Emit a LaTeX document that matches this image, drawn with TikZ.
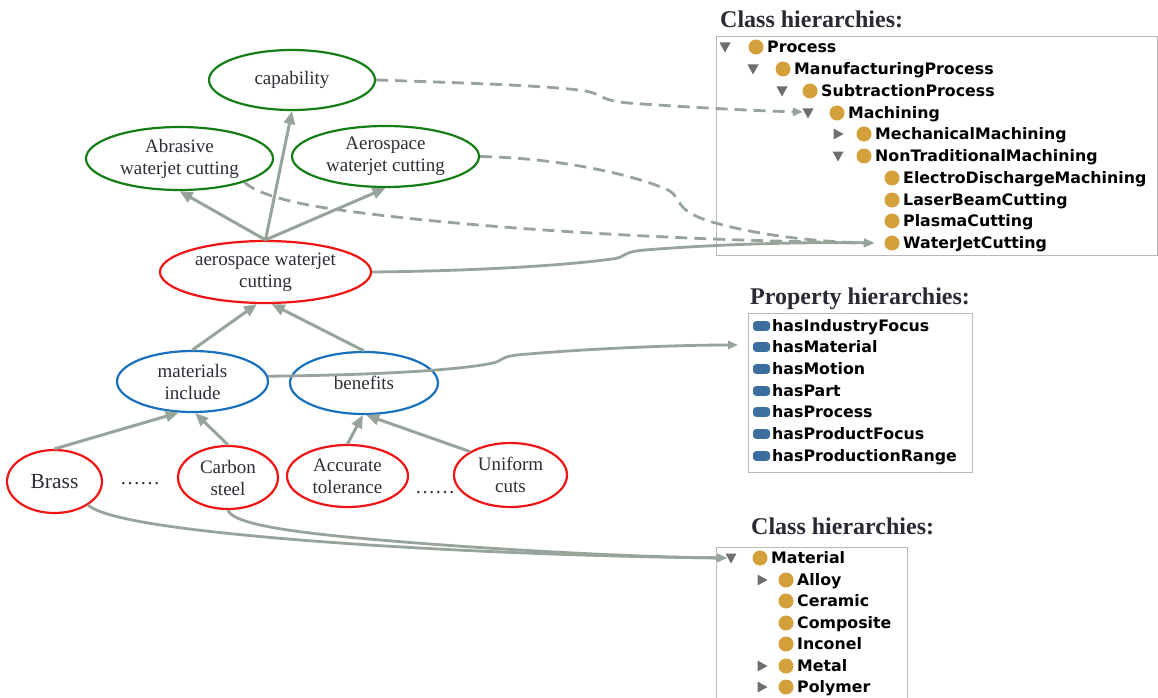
\documentclass[tikz,border=0pt]{standalone}
\usepackage{fontspec}
\setmainfont{Liberation Serif}
\newfontfamily\treefont{DejaVu Sans}
\usetikzlibrary{shapes.geometric,arrows.meta}

\definecolor{linkgray}{RGB}{150,164,154}
\definecolor{ogreen}{RGB}{20,125,20}
\definecolor{ored}{RGB}{240,20,20}
\definecolor{oblue}{RGB}{25,112,190}
\definecolor{txt}{RGB}{45,45,55}
\definecolor{titlecol}{RGB}{42,42,52}
\definecolor{gold}{RGB}{212,160,60}
\definecolor{propblue}{RGB}{60,110,160}
\definecolor{trigray}{RGB}{110,110,110}
\definecolor{boxgray}{RGB}{185,185,185}

\tikzset{
  concept/.style={ellipse, draw, line width=2.2pt, inner sep=0pt, align=center,
    text=txt, font=\fontsize{19}{22}\selectfont},
  greennode/.style={concept, draw=ogreen},
  rednode/.style={concept, draw=ored},
  bluenode/.style={concept, draw=oblue},
  conn/.style={draw=linkgray, line width=3pt, -{Triangle[length=13pt,width=11pt]}},
  link/.style={draw=linkgray, line width=2.8pt, -{Triangle[length=10pt,width=8pt]}},
  dashlink/.style={link, dash pattern=on 12pt off 7pt},
  paneltitle/.style={anchor=base west, inner sep=0pt, text=titlecol,
    font=\bfseries\fontsize{24}{28}\selectfont},
  panelbox/.style={draw=boxgray, line width=0.9pt},
  cls/.style={anchor=base west, inner sep=0pt, text=black,
    font=\treefont\bfseries\fontsize{15.8}{18}\selectfont},
  dots/.style={anchor=base, inner sep=0pt, text=txt, font=\fontsize{20}{22}\selectfont}
}

\begin{document}
\begin{tikzpicture}[x=1pt,y=-1pt]
\useasboundingbox (0,0) rectangle (1158,698);
\fill[white] (0,0) rectangle (1158,698);

% ---------- concept nodes ----------
\node[greennode, minimum width=166pt, minimum height=60pt] (cap) at (292,80) {capability};
\node[greennode, minimum width=187pt, minimum height=63pt] (abr) at (179.5,158.5) {Abrasive\\waterjet cutting};
\node[greennode, minimum width=187pt, minimum height=61pt] (aer) at (385.5,156.5) {Aerospace\\waterjet cutting};
\node[rednode, minimum width=211pt, minimum height=62pt] (ra) at (265.5,272) {aerospace waterjet\\cutting};
\node[bluenode, minimum width=151pt, minimum height=61pt] (mi) at (192.5,381.5) {materials\\include};
\node[bluenode, minimum width=148pt, minimum height=62pt] (be) at (364,383) {benefits};
\node[rednode, minimum width=95pt, minimum height=63pt, font=\fontsize{21.5}{24}\selectfont] (br) at (54.5,481.5) {Brass};
\node[rednode, minimum width=100pt, minimum height=63pt] (cs) at (228,477.5) {Carbon\\steel};
\node[rednode, minimum width=121pt, minimum height=62pt] (at) at (347.5,476) {Accurate\\tolerance};
\node[rednode, minimum width=113pt, minimum height=64pt] (uc) at (510.5,475) {Uniform\\cuts};

\node[dots] (dots1) at (140,484) {……};
\node[dots] (dots2) at (435,493) {……};

% ---------- hierarchy edges ----------
\draw[conn] (ra.north) -- (cap.south);
\draw[conn] (ra.north) -- (abr.south);
\draw[conn] (ra.north) -- (aer.south);
\draw[conn] (mi.north) -- (ra.255);
\draw[conn] (be.north) -- (ra.281);
\draw[conn] (br.north) -- (mi.246);
\draw[conn] (cs.north) -- (mi.275);
\draw[conn] (at.north) -- (be.268);
\draw[conn] (uc.150) -- (be.274);

% ---------- panel 1: process classes ----------
\node[paneltitle] (title1) at (720,28) {Class hierarchies:};
\draw[panelbox] (716,36) rectangle (1157,255);
\foreach \tx/\ty in {725/47,753/69,782/91,808/113,838/156}
  \fill[trigray] (\tx-5.5,\ty-4.5) -- (\tx+5.5,\ty-4.5) -- (\tx,\ty+5.5) -- cycle;
\foreach \tx/\ty in {838/134}
  \fill[trigray] (\tx-4.5,\ty-5.5) -- (\tx-4.5,\ty+5.5) -- (\tx+5.5,\ty) -- cycle;
\foreach \cx/\cy/\lab in {756/47/Process,783/69/ManufacturingProcess,810/91/SubtractionProcess,
    837/113/Machining,864/134/MechanicalMachining,864/156/NonTraditionalMachining,
    892/178/ElectroDischargeMachining,892/200/LaserBeamCutting,892/221/PlasmaCutting,
    892/243/WaterJetCutting}{
  \fill[gold] (\cx,\cy) circle (7.5pt);
  \node[cls] (c-\lab) at (\cx+11,\cy+5.7) {\lab};
}
\coordinate (machIn) at (803,112);
\coordinate (wjIn) at (874,243);

% ---------- panel 2: properties ----------
\node[paneltitle] (title2) at (750,304) {Property hierarchies:};
\draw[panelbox] (748,313) rectangle (972,472);
\foreach \py/\lab in {326/hasIndustryFocus,347/hasMaterial,369/hasMotion,391/hasPart,
    412/hasProcess,434/hasProductFocus,456/hasProductionRange}{
  \fill[propblue, rounded corners=3pt] (753,\py-4.8) rectangle (770,\py+4.8);
  \node[cls] (p-\lab) at (772,\py+5.7) {\lab};
}
\coordinate (hmIn) at (738,345);

% ---------- panel 3: material classes ----------
\node[paneltitle] (title3) at (751,534) {Class hierarchies:};
\draw[panelbox] (716,712) -- (716,547) -- (907,547) -- (907,712);
\foreach \tx/\ty in {731/558}
  \fill[trigray] (\tx-5.5,\ty-4.5) -- (\tx+5.5,\ty-4.5) -- (\tx,\ty+5.5) -- cycle;
\foreach \tx/\ty in {762/580,762/666,762/687}
  \fill[trigray] (\tx-4.5,\ty-5.5) -- (\tx-4.5,\ty+5.5) -- (\tx+5.5,\ty) -- cycle;
\foreach \cx/\cy/\lab in {760/558/Material,786/580/Alloy,786/601/Ceramic,786/623/Composite,
    786/644/Inconel,786/666/Metal,786/687/Polymer}{
  \fill[gold] (\cx,\cy) circle (7.5pt);
  \node[cls] (m-\lab) at (\cx+11,\cy+5.7) {\lab};
}
\coordinate (matIn) at (727,558);

% ---------- mapping connectors ----------
\draw[dashlink] (cap.east) .. controls (470,83) and (555,86) .. (585,91)
  .. controls (603,94) and (598,100) .. (628,103)
  .. controls (700,108) and (760,111) .. (machIn);
\draw[dashlink] (aer.east) .. controls (560,158) and (635,175) .. (668,190)
  .. controls (683,198) and (672,210) .. (712,222)
  .. controls (760,236) and (820,242) .. (wjIn);
\draw[dashlink] (abr.340) .. controls (255,193) and (290,203) .. (333,209)
  .. controls (450,226) and (650,240) .. (wjIn);
\draw[link] (ra.east) .. controls (470,271) and (560,266) .. (612,259)
  .. controls (628,257) and (620,252) .. (645,250)
  .. controls (720,244) and (800,242) .. (wjIn);
\draw[link] (mi.4) .. controls (380,375) and (460,370) .. (493,363)
  .. controls (505,360) and (498,356) .. (528,354)
  .. controls (600,348) and (680,345) .. (hmIn);
\draw[link] (br.325) .. controls (105,520) and (190,531) .. (300,540)
  .. controls (450,552) and (620,557) .. (matIn);
\draw[link] (cs.south) .. controls (232,522) and (275,530) .. (347,537)
  .. controls (450,547) and (620,557) .. (matIn);
\end{tikzpicture}
\end{document}
